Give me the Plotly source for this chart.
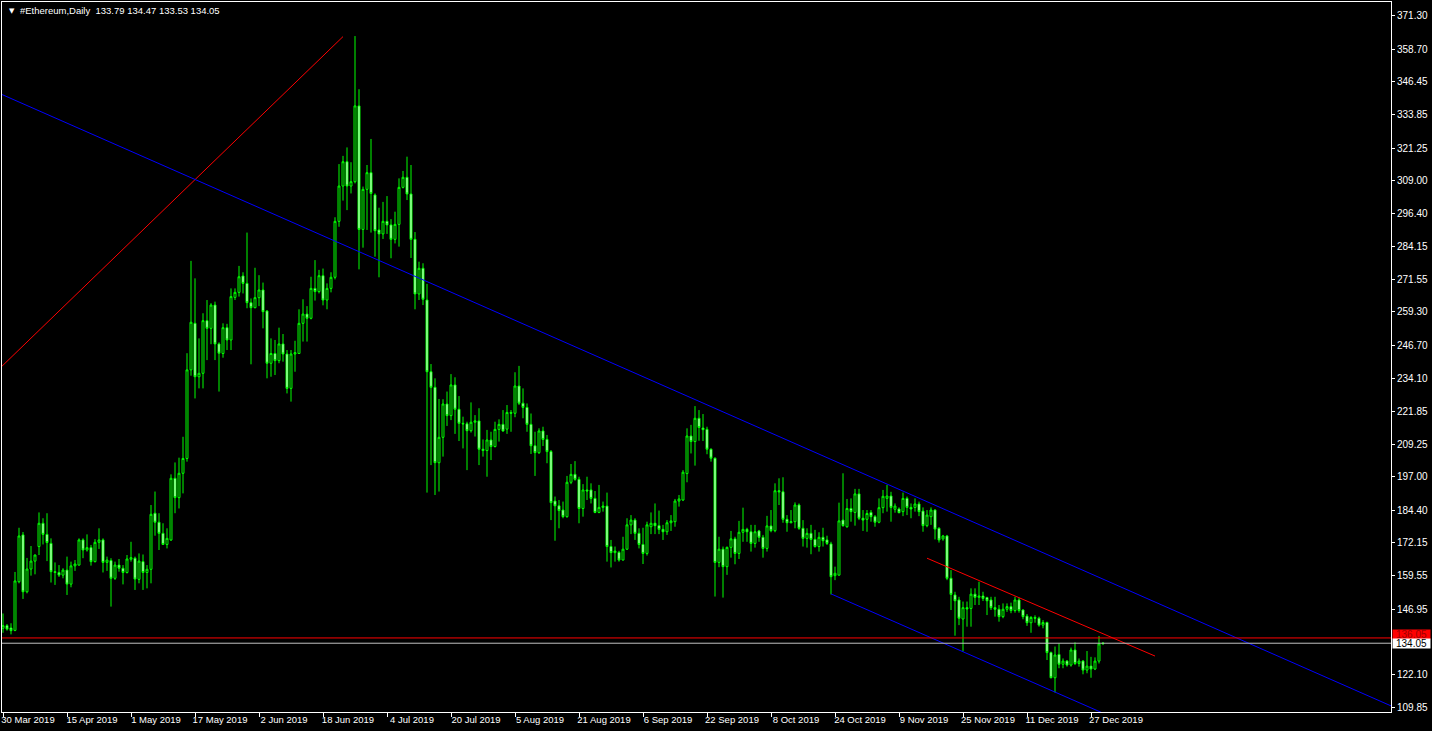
import pandas as pd
import plotly.graph_objects as go

# ---------------- data ----------------
start_date = "2019-03-30"

open_ = [139.7,140.7,139.8,138.9,157.3,175.0,153.5,162.1,165.1,170.6,179.4,175.2,171.8,161.1,160.8,159.8,161.7,156.4,163.3,163.6,
         173.1,169.3,170.2,164.9,172.2,173.1,164.6,165.3,158.6,163.6,162.4,160.8,165.8,166.2,158.2,164.9,160.8,162.0,183.2,179.8,
         175.6,171.4,173.1,196.4,189.1,198.3,203.9,237.4,255.0,234.8,236.1,256.0,253.1,261.9,247.2,243.6,253.35,248.7,264.8,266.7,
         272.9,270.1,262.8,260.9,264.7,267.6,259.65,239.9,243.6,240.9,247.2,243.4,230.4,243.4,243.6,255.0,258.5,256.9,268.2,267.0,
         273.0,263.8,268.2,272.4,293.55,306.9,316.1,306.9,308.55,337.2,290.5,305.65,311.95,303.5,290.3,288.8,293.55,292.2,286.75,292.4,
         306.4,310.2,303.9,286.75,266.1,275.8,263.8,236.7,230.8,202.3,211.9,224.5,220.1,231.7,222.5,217.2,217.0,214.4,217.6,218.1,
         207.4,206.9,210.9,208.4,214.9,216.8,215.0,221.3,221.0,231.3,224.8,223.2,216.8,208.7,206.1,214.3,211.1,206.5,187.8,186.0,
         184.4,181.9,194.9,197.9,196.0,185.0,192.0,192.0,188.8,183.5,185.4,185.9,170.6,168.3,168.4,165.5,169.6,178.8,180.6,175.6,
         171.4,168.0,178.1,179.4,178.5,177.1,176.2,179.6,180.0,187.8,188.2,198.2,212.4,210.3,219.1,215.4,214.9,207.4,204.0,164.6,
         169.6,163.0,170.3,173.5,168.0,176.0,177.1,176.2,171.8,176.5,174.1,169.9,178.4,176.6,191.7,191.3,180.9,179.6,180.0,186.3,
         177.5,173.7,175.6,173.3,170.6,174.1,173.1,171.6,159.6,159.8,180.6,178.1,185.0,183.5,190.5,181.3,180.9,183.5,181.9,179.8,
         185.3,188.8,189.7,184.7,184.8,183.8,188.8,185.4,185.4,186.7,184.0,178.5,181.9,184.4,177.5,173.5,174.6,158.6,152.3,150.4,
         143.2,147.5,147.2,152.6,151.4,151.9,151.3,150.4,147.5,146.9,144.1,146.9,147.9,146.4,150.4,146.6,144.3,141.8,143.8,143.5,
         140.9,141.9,130.5,121.0,129.8,126.1,127.3,125.8,131.5,126.4,127.3,123.9,125.4,124.3,127.3,133.79]

high = [145.3,141.3,141.6,161.0,177.7,176.1,166.3,170.8,167.6,183.5,181.3,183.2,173.7,164.6,163.6,162.4,166.8,164.9,165.5,173.7,
        173.7,175.2,171.2,173.4,177.5,173.7,166.8,166.2,164.9,165.9,163.6,167.4,172.4,166.8,168.0,167.6,163.6,186.3,191.4,183.2,
        179.4,177.5,197.9,202.4,204.2,212.1,243.7,278.6,272.0,249.3,258.8,263.8,262.6,263.2,247.8,255.0,254.8,268.2,268.2,276.7,
        274.3,289.3,264.4,276.0,273.2,270.4,260.0,249.3,248.7,253.35,250.95,244.9,244.9,248.4,260.3,264.1,261.5,272.6,278.9,275.2,
        275.7,270.1,274.3,295.1,315.2,318.3,321.5,315.9,363.6,343.5,306.7,314.85,324.7,304.1,298.7,300.9,303.1,294.4,297.2,309.8,
        312.6,318.0,314.85,289.5,278.3,277.7,269.9,239.6,234.2,226.4,226.3,229.2,235.8,234.6,227.5,219.7,217.8,225.1,220.3,222.9,
        211.1,214.7,214.0,217.8,218.7,222.2,224.1,222.2,236.5,238.9,230.4,224.7,220.9,214.0,215.3,215.9,212.8,207.1,189.5,188.2,
        187.6,197.3,201.8,202.9,197.0,194.2,197.0,194.5,191.6,193.9,187.6,191.0,173.1,170.6,169.0,174.3,181.3,182.5,181.3,177.5,
        177.7,180.0,183.5,186.9,184.2,178.8,180.6,182.5,188.6,190.1,199.5,215.3,216.6,223.7,222.2,220.7,215.9,207.7,204.3,174.3,
        170.6,170.6,176.5,174.3,180.3,185.3,177.7,178.8,178.8,176.9,175.0,182.2,184.4,194.5,196.4,196.8,182.5,184.4,187.3,186.9,
        180.6,177.5,178.8,176.9,176.0,177.7,174.7,172.4,163.0,187.2,198.3,188.6,188.8,192.4,192.4,184.4,184.4,184.4,182.5,188.8,
        192.0,193.9,191.3,186.9,185.4,191.0,189.5,186.9,188.8,187.6,185.4,184.4,185.4,184.7,177.9,175.0,175.0,161.7,153.5,151.6,
        149.8,149.8,154.8,154.8,157.3,153.5,151.6,151.6,151.6,148.5,149.1,149.1,149.4,151.6,151.3,146.9,145.1,144.3,144.6,144.1,
        142.8,142.2,130.9,132.8,134.0,128.3,127.7,132.4,134.4,128.3,127.7,131.1,128.9,128.7,136.8,134.47]

low = [138.0,138.8,137.4,138.6,156.7,150.8,152.9,159.6,160.1,167.4,171.4,165.1,157.0,156.1,159.1,158.6,152.3,155.2,161.4,163.4,
       166.2,168.7,163.4,164.6,169.7,160.8,161.4,147.9,158.0,161.1,156.3,160.4,164.9,154.2,156.7,154.2,154.8,156.7,174.7,169.3,
       171.2,169.9,172.7,183.2,185.0,190.7,202.7,235.2,226.6,230.4,230.4,241.1,247.1,241.1,229.2,242.0,244.9,244.9,263.8,265.1,
       266.3,260.7,239.5,260.7,261.5,253.1,234.2,234.8,235.45,239.9,240.5,228.5,225.4,236.7,243.4,248.1,248.1,256.5,263.6,266.3,
       261.8,260.3,266.7,271.6,291.5,301.4,297.8,304.1,307.9,275.4,283.6,290.3,289.3,280.2,272.4,286.9,288.8,279.6,285.2,284.0,
       306.0,301.6,279.7,260.3,263.8,261.9,191.0,201.4,190.1,191.4,204.6,216.2,218.4,213.2,210.5,207.7,199.5,213.7,212.2,201.4,
       204.6,197.0,203.3,208.1,210.3,214.0,213.2,214.0,219.5,224.1,219.1,214.0,205.6,197.3,205.6,208.6,202.1,180.6,172.8,177.5,
       181.3,181.5,194.2,195.5,179.4,181.9,188.2,186.9,183.2,183.2,183.8,164.9,162.7,164.9,164.9,165.3,169.3,175.3,173.1,169.9,
       164.0,167.2,175.3,175.3,175.3,173.1,175.0,176.5,178.1,185.7,187.8,194.9,205.8,201.2,210.6,210.5,205.5,202.7,151.7,162.8,
       151.3,159.9,166.4,163.9,165.9,172.4,172.4,168.7,170.2,172.4,166.4,168.7,176.0,176.0,186.3,179.6,176.2,179.4,177.5,176.9,
       170.6,170.2,167.7,170.2,168.7,170.6,171.2,152.5,157.9,159.6,178.1,177.7,180.0,178.5,180.6,176.5,176.2,180.0,178.1,179.4,
       183.2,183.8,180.0,183.4,183.2,182.1,182.5,181.3,183.8,182.1,176.2,177.9,178.8,173.3,172.1,172.8,157.9,146.6,136.9,140.9,
       130.9,140.3,140.3,148.5,148.5,150.0,144.7,146.6,144.1,142.2,143.5,145.9,145.4,145.6,145.6,143.1,140.6,138.0,141.8,140.3,
       139.7,127.7,120.8,115.4,124.6,124.6,125.2,125.2,125.8,125.2,122.3,122.7,121.0,123.9,126.4,133.53]

close = [140.7,139.4,138.8,157.6,174.6,153.5,162.1,165.1,167.4,179.4,175.2,172.1,161.1,160.8,159.8,161.7,156.4,163.3,164.0,173.1,
         169.3,170.2,164.9,172.2,173.1,164.6,165.5,158.6,163.6,162.4,160.8,165.9,166.4,158.3,165.1,160.8,162.0,182.8,179.8,175.6,
         171.4,173.7,196.4,189.1,198.3,203.9,237.4,255.4,234.8,236.1,256.0,253.1,261.9,247.2,243.7,253.35,248.7,265.1,266.7,272.6,
         270.1,262.8,260.9,264.7,267.6,259.4,239.9,243.6,240.9,247.2,243.4,230.4,243.4,243.9,255.0,258.5,256.9,268.2,267.0,273.0,
         263.8,268.2,272.4,293.55,306.9,316.1,306.9,308.55,337.2,290.5,305.65,311.95,304.1,290.0,288.8,293.55,292.2,286.75,292.4,306.4,
         310.2,303.9,286.75,266.1,275.8,264.1,236.7,230.8,202.3,211.9,224.5,220.1,231.7,222.5,217.2,217.0,214.4,217.6,218.1,207.4,
         206.9,210.9,208.4,214.9,216.8,214.3,221.3,221.0,231.3,224.8,223.2,216.8,208.7,206.1,214.3,211.1,206.5,187.2,186.0,184.2,
         181.9,194.9,197.9,196.0,185.0,192.0,191.6,188.8,183.5,185.4,185.9,170.6,168.3,168.9,165.5,169.6,178.8,180.6,175.6,171.4,
         168.0,178.8,179.4,178.5,177.1,176.2,179.6,180.3,187.8,188.6,198.7,212.4,210.3,219.1,215.6,214.8,207.4,204.0,164.6,169.6,
         163.0,170.3,173.5,168.0,176.0,177.1,176.2,171.8,176.2,174.1,169.9,178.4,176.6,191.7,191.3,180.9,179.6,180.0,186.3,177.5,
         173.7,175.6,173.3,170.6,174.1,172.8,171.8,159.2,160.5,180.3,178.5,185.0,183.8,190.5,181.3,180.6,183.1,181.9,179.8,185.3,
         189.6,189.7,185.4,185.9,183.4,188.8,185.4,184.8,186.7,183.8,178.5,182.5,184.4,177.2,173.1,174.6,158.6,152.5,150.1,143.5,
         147.5,147.0,152.6,151.4,151.9,151.0,150.1,147.5,146.9,144.1,146.9,147.9,146.4,150.4,146.4,144.1,141.8,143.8,143.5,140.9,
         141.9,130.5,121.0,129.6,126.1,127.3,125.8,131.5,126.4,127.3,123.9,125.4,124.3,127.3,133.8,134.05]

bid_price = 134.05
ask_price = 136.05
title_text = "#Ethereum,Daily  133.79 134.47 133.53 134.05"

# trend lines (date, price end points)
red_up_dates = ["2019-03-29", "2019-06-23"]
red_up_prices = [237.7, 363.4]
blue_long_dates = ["2019-03-29", "2020-03-12"]
blue_long_prices = [342.0, 109.7]
red_short_dates = ["2019-11-16", "2020-01-12"]
red_short_prices = [166.2, 129.2]
blue_short_dates = ["2019-10-23", "2020-01-09"]
blue_short_prices = [152.7, 101.0]

x_tick_dates = ["2019-03-30", "2019-04-15", "2019-05-01", "2019-05-17", "2019-06-02", "2019-06-18",
                "2019-07-04", "2019-07-20", "2019-08-05", "2019-08-21", "2019-09-06", "2019-09-22",
                "2019-10-08", "2019-10-24", "2019-11-09", "2019-11-25", "2019-12-11", "2019-12-27"]
x_tick_text = ["30 Mar 2019", "15 Apr 2019", "1 May 2019", "17 May 2019", "2 Jun 2019", "18 Jun 2019",
               "4 Jul 2019", "20 Jul 2019", "5 Aug 2019", "21 Aug 2019", "6 Sep 2019", "22 Sep 2019",
               "8 Oct 2019", "24 Oct 2019", "9 Nov 2019", "25 Nov 2019", "11 Dec 2019", "27 Dec 2019"]
y_tick_vals = [371.30, 358.70, 346.45, 333.85, 321.25, 309.00, 296.40, 284.15, 271.55, 259.30, 246.70,
               234.10, 221.85, 209.25, 197.00, 184.40, 172.15, 159.55, 146.95, 122.10, 109.85]
y_tick_text = ["%.2f" % v for v in y_tick_vals]

dates = pd.date_range(start_date, periods=len(close), freq="D")

# ---------------- figure ----------------
GREEN = "#00FF00"
FONT = "Liberation Sans, Arial, sans-serif"

fig = go.Figure()
fig.add_trace(go.Candlestick(
    x=dates, open=open_, high=high, low=low, close=close,
    increasing=dict(line=dict(color=GREEN, width=1), fillcolor="black"),
    decreasing=dict(line=dict(color=GREEN, width=1), fillcolor="white"),
    whiskerwidth=0, hoverinfo="skip", showlegend=False,
))

for dx, py, col in [(red_up_dates, red_up_prices, "#FF0000"),
                    (blue_long_dates, blue_long_prices, "#0000FF"),
                    (red_short_dates, red_short_prices, "#FF0000"),
                    (blue_short_dates, blue_short_prices, "#0000FF")]:
    fig.add_trace(go.Scatter(x=pd.to_datetime(dx), y=py, mode="lines",
                             line=dict(color=col, width=1), hoverinfo="skip", showlegend=False))

fig.add_shape(type="line", xref="paper", x0=0, x1=1, yref="y", y0=ask_price, y1=ask_price,
              line=dict(color="#FF0000", width=1))
fig.add_shape(type="line", xref="paper", x0=0, x1=1, yref="y", y0=bid_price, y1=bid_price,
              line=dict(color="#C0C0C0", width=1))

fig.add_annotation(text="%.2f" % ask_price, xref="paper", x=1, xanchor="left", xshift=1,
                   yref="y", y=ask_price, yanchor="middle", yshift=3, showarrow=False,
                   bgcolor="#FF0000", font=dict(family=FONT, size=10, color="#A00000"),
                   width=37, height=9, borderpad=0)
fig.add_annotation(text="%.2f" % bid_price, xref="paper", x=1, xanchor="left", xshift=1,
                   yref="y", y=bid_price, yanchor="middle", showarrow=False,
                   bgcolor="white", font=dict(family=FONT, size=10, color="black"),
                   width=37, height=9, borderpad=0)

fig.add_annotation(text="▼", xref="paper", x=0.0035, xanchor="left", yref="paper", y=0.9875,
                   yanchor="middle", showarrow=False, font=dict(family="DejaVu Sans", size=7, color="white"))
fig.add_annotation(text=title_text, xref="paper", x=0.0115, xanchor="left", yref="paper", y=0.9875,
                   yanchor="middle", showarrow=False, font=dict(family=FONT, size=9.5, color="white"))

fig.update_layout(
    width=1432, height=731,
    margin=dict(l=2, r=41, t=2, b=19),
    paper_bgcolor="black", plot_bgcolor="black",
    showlegend=False, boxgap=0.3,
    xaxis=dict(
        type="date", range=["2019-03-29 18:00", "2020-03-11"],
        rangeslider=dict(visible=False),
        showgrid=False, zeroline=False,
        showline=True, linecolor="white", linewidth=1, mirror=True,
        ticks="outside", ticklen=4, tickcolor="white", tickwidth=1,
        tickvals=pd.to_datetime(x_tick_dates), ticktext=x_tick_text,
        tickfont=dict(family=FONT, size=9.5, color="white"),
        ticklabelshift=25, ticklabelstandoff=-5,
    ),
    yaxis=dict(
        side="right", range=[108.05, 376.48],
        showgrid=False, zeroline=False,
        showline=True, linecolor="white", linewidth=1, mirror=True,
        ticks="outside", ticklen=3, tickcolor="white", tickwidth=1,
        tickvals=y_tick_vals, ticktext=y_tick_text,
        tickfont=dict(family=FONT, size=10, color="white"),
    ),
)

fig.write_html("out.html", config={"displayModeBar": False},
               post_script="document.body.style.margin='0px';document.body.style.background='black';")
